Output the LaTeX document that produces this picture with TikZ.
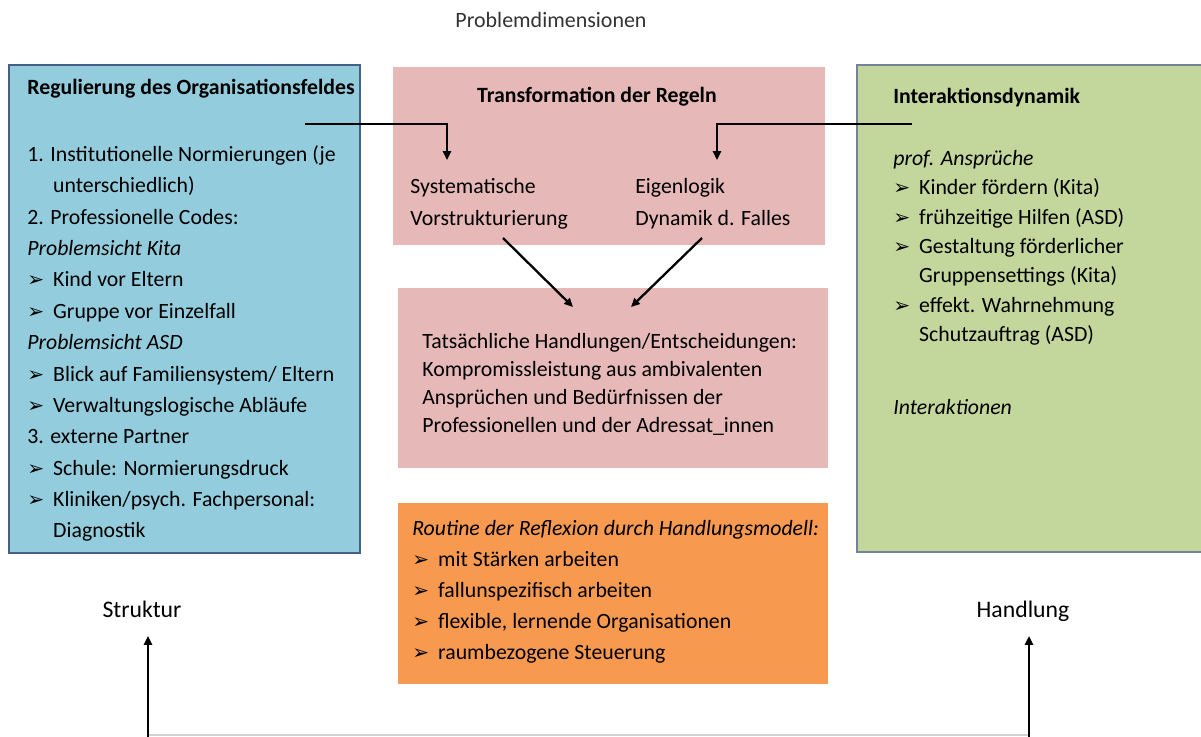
\documentclass[tikz,border=0pt]{standalone}
\usepackage{fontspec}
\setmainfont{Carlito}
\newfontfamily\arrowfont{DejaVu Sans}
\usetikzlibrary{arrows.meta,fit}

\definecolor{regblue}{RGB}{147,205,221}
\definecolor{regline}{RGB}{70,95,135}
\definecolor{trpink}{RGB}{230,185,184}
\definecolor{routorange}{RGB}{247,154,80}
\definecolor{intgreen}{RGB}{195,214,155}
\definecolor{intline}{RGB}{115,130,155}

\newcommand{\bl}{\makebox[14.7pt][l]{\arrowfont\fontsize{11.5}{11.5}\selectfont ➢}}
\newcommand{\ind}{\hspace*{14.7pt}}
\newcommand{\topstrut}{\rule{0pt}{10pt}}

\tikzset{
  box/.style={inner sep=0pt},
  regbox/.style={box, draw=regline, line width=1pt, fill=regblue},
  trbox/.style={box, fill=trpink},
  routbox/.style={box, fill=routorange},
  intbox/.style={box, draw=intline, line width=1pt, fill=intgreen},
  txt/.style={anchor=north west, align=left, inner sep=0pt, font=\fontsize{12.4}{#1}\selectfont},
  lbl/.style={anchor=base, inner sep=0pt, font=\fontsize{13.5}{16}\selectfont},
  arr/.style={line width=1.3pt, -{Triangle[length=5pt,width=4.5pt]}},
}

\begin{document}
\begin{tikzpicture}[x=0.02cm, y=-0.02cm]
\useasboundingbox (0,0) rectangle (1201,737);

\node[anchor=base, inner sep=0pt, font=\fontsize{12.5}{15}\selectfont, text=black!80] (dim) at (551,28) {Problemdimensionen};

\node[regbox, fit={(9,65) (360,553)}] (reg) {};
\node[trbox, fit={(393,67) (825,245)}] (trans) {};
\node[trbox, fit={(398,288) (828,468)}] (handl) {};
\node[routbox, fit={(398,503) (828,684)}] (rout) {};
\node[intbox, fit={(857,65) (1215,552)}] (inter) {};

\node[txt=17.86pt] (regtxt) at (27,77) {\topstrut\textbf{Regulierung des Organisationsfeldes}\\[20pt]
1. Institutionelle Normierungen (je\\
\ind unterschiedlich)\\
2. Professionelle Codes:\\
\textit{Problemsicht Kita}\\
\bl Kind vor Eltern\\
\bl Gruppe vor Einzelfall\\
\textit{Problemsicht ASD}\\
\bl Blick auf Familiensystem/ Eltern\\
\bl Verwaltungslogische Abläufe\\
3. externe Partner\\
\bl Schule: Normierungsdruck\\
\bl Kliniken/psych. Fachpersonal:\\
\ind Diagnostik};

\node[anchor=base, inner sep=0pt, font=\fontsize{12.4}{15}\selectfont] (transtitle) at (597,102) {\textbf{Transformation der Regeln}};
\node[txt=18.1pt] (sys) at (410,175.4) {\topstrut Systematische\\Vorstrukturierung};
\node[txt=18.1pt] (eigen) at (635,175.4) {\topstrut Eigenlogik\\Dynamik d. Falles};

\node[txt=15.9pt] (handltxt) at (422,330.4) {\topstrut Tatsächliche Handlungen/Entscheidungen:\\
Kompromissleistung aus ambivalenten\\
Ansprüchen und Bedürfnissen der\\
Professionellen und der Adressat\_innen};

\node[txt=17.6pt] (routtxt) at (412,517.4) {\topstrut\textit{Routine der Reflexion durch Handlungsmodell:}\\
\bl mit Stärken arbeiten\\
\bl fallunspezifisch arbeiten\\
\bl flexible, lernende Organisationen\\
\bl raumbezogene Steuerung};

\node[txt=16.7pt] (intertxt) at (893,86) {\topstrut\textbf{Interaktionsdynamik}\\[18.4pt]
\textit{prof. Ansprüche}\\
\bl Kinder fördern (Kita)\\
\bl frühzeitige Hilfen (ASD)\\
\bl Gestaltung förderlicher\\
\ind Gruppensettings (Kita)\\
\bl effekt. Wahrnehmung\\
\ind Schutzauftrag (ASD)\\[24.7pt]
\textit{Interaktionen}};

\node[lbl] (struk) at (142,617) {Struktur};
\node[lbl] (hand) at (1023,617) {Handlung};

\coordinate (regout) at (305,124);
\coordinate (sysin) at (447,160);
\coordinate (interout) at (912,124);
\coordinate (eigenin) at (717,160);
\coordinate (sysout) at (503,238);
\coordinate (eigenout) at (702,238);
\coordinate (handlinl) at (573,307);
\coordinate (handlinr) at (631,307);
\coordinate (strukbase) at (148,737);
\coordinate (strukin) at (148,636);
\coordinate (handbase) at (1029,737);
\coordinate (handin) at (1029,636);

\draw[arr] (regout) -| (sysin);
\draw[arr] (interout) -| (eigenin);
\draw[arr] (sysout) -- (handlinl);
\draw[arr] (eigenout) -- (handlinr);
\draw[gray!35, line width=1pt] (148,735) -- (1029,735);
\draw[arr] (strukbase) -- (strukin);
\draw[arr] (handbase) -- (handin);
\end{tikzpicture}
\end{document}
